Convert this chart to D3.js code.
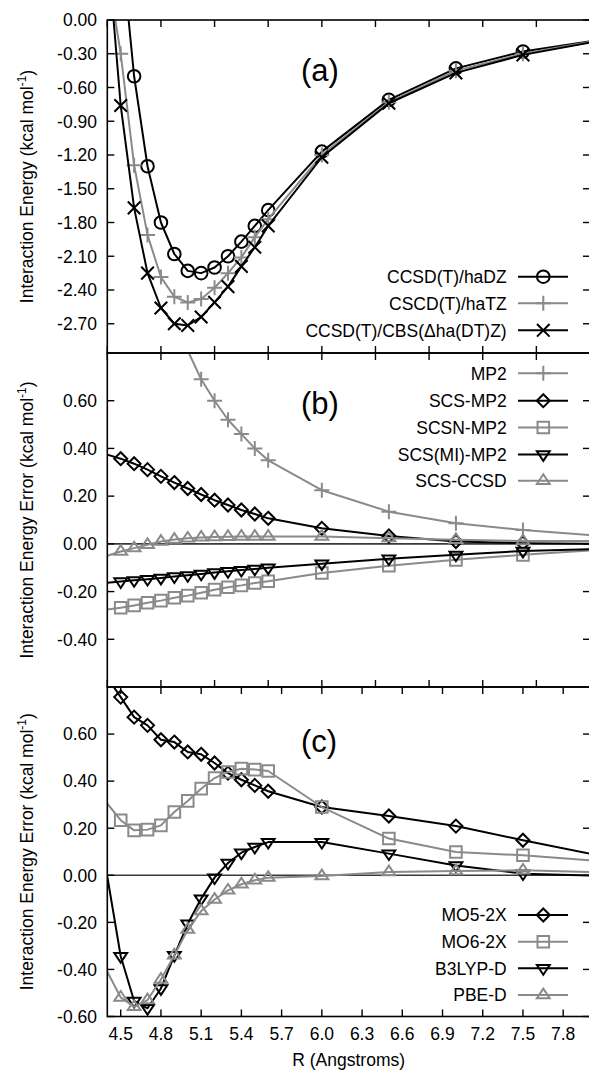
<!DOCTYPE html>
<html>
<head>
<meta charset="utf-8">
<script src="https://cdn.jsdelivr.net/npm/d3@7"></script>
<style>
  html, body { margin: 0; padding: 0; background: #fff; }
  svg { display: block; }
  text { font-family: "Liberation Sans", Arial, Helvetica, sans-serif; fill: #000; }
</style>
</head>
<body>
<svg id="chart" width="589" height="1070"></svg>
<script>
// Separation R (Angstrom) shared by every curve
const R = [4.4, 4.5, 4.6, 4.7, 4.8, 4.9, 5.0, 5.1, 5.2, 5.3, 5.4, 5.5, 5.6, 6.0, 6.5, 7.0, 7.5, 8.0];

// (a) interaction energies, kcal/mol
const ccsdHaDZ = [2.00, 0.72, -0.50, -1.30, -1.80, -2.08, -2.23, -2.25, -2.20, -2.10, -1.97, -1.83, -1.69, -1.17, -0.71, -0.43, -0.28, -0.19];
const cscdHaTZ = [0.45, -0.30, -1.29, -1.91, -2.285, -2.46, -2.51, -2.48, -2.38, -2.25, -2.11, -1.93, -1.77, -1.20, -0.73, -0.45, -0.30, -0.195];
const ccsdCBS  = [0.67, -0.76, -1.67, -2.25, -2.56, -2.70, -2.715, -2.64, -2.51, -2.37, -2.19, -2.02, -1.83, -1.22, -0.74, -0.47, -0.31, -0.20];

// (b) wavefunction method errors, kcal/mol
const mp2      = [2.30, 1.90, 1.58, 1.32, 1.11, 0.94, 0.81, 0.69, 0.60, 0.52, 0.46, 0.40, 0.35, 0.225, 0.135, 0.086, 0.058, 0.037];
const scsMp2   = [0.374, 0.357, 0.336, 0.311, 0.283, 0.257, 0.232, 0.207, 0.183, 0.163, 0.142, 0.125, 0.107, 0.065, 0.033, 0.010, 0.003, 0.000];
const scsnMp2  = [-0.275, -0.268, -0.258, -0.247, -0.238, -0.226, -0.217, -0.205, -0.192, -0.182, -0.174, -0.164, -0.157, -0.122, -0.092, -0.067, -0.046, -0.028];
const scsMiMp2 = [-0.163, -0.158, -0.153, -0.148, -0.143, -0.137, -0.132, -0.126, -0.120, -0.115, -0.110, -0.105, -0.100, -0.083, -0.062, -0.046, -0.030, -0.022];
const scsCcsd  = [-0.050, -0.032, -0.018, -0.004, 0.010, 0.018, 0.023, 0.027, 0.029, 0.030, 0.031, 0.031, 0.031, 0.031, 0.024, 0.017, 0.012, 0.012];

// (c) density functional errors, kcal/mol
const m052x  = [0.84, 0.757, 0.672, 0.637, 0.576, 0.566, 0.524, 0.514, 0.477, 0.434, 0.406, 0.382, 0.357, 0.290, 0.252, 0.209, 0.149, 0.092];
const m062x  = [0.304, 0.234, 0.191, 0.194, 0.212, 0.269, 0.316, 0.368, 0.413, 0.439, 0.453, 0.449, 0.443, 0.290, 0.156, 0.099, 0.085, 0.064];
const b3lypD = [-0.005, -0.344, -0.534, -0.565, -0.481, -0.340, -0.206, -0.099, -0.010, 0.052, 0.096, 0.120, 0.141, 0.141, 0.092, 0.042, 0.007, -0.001];
const pbeD   = [-0.41, -0.519, -0.559, -0.530, -0.443, -0.340, -0.231, -0.152, -0.103, -0.064, -0.038, -0.021, -0.010, -0.003, 0.014, 0.018, 0.021, 0.014];

// Axis ticks
const rTicksMinor = [4.4, 4.8, 5.2, 5.6, 6.0, 6.4, 6.8, 7.2, 7.6, 8.0];
const rTicksMajor = [4.5, 4.8, 5.1, 5.4, 5.7, 6.0, 6.3, 6.6, 6.9, 7.2, 7.5, 7.8];
const rTickLabels = ["4.5", "4.8", "5.1", "5.4", "5.7", "6.0", "6.3", "6.6", "6.9", "7.2", "7.5", "7.8"];
const eTicksA = [0.00, -0.30, -0.60, -0.90, -1.20, -1.50, -1.80, -2.10, -2.40, -2.70];
const eTicksB = [0.60, 0.40, 0.20, 0.00, -0.20, -0.40];
const eTicksC = [0.60, 0.40, 0.20, 0.00, -0.20, -0.40, -0.60];

const BLACK = "#000";
const GREY = "#8a8a8a";
const FONT = 17.5;

const svg = d3.select("#chart");
const left = 107.3, right = 590;
const x = d3.scaleLinear().domain([4.4, 8.0]).range([left, right]);

const fmt = v => (v < -1e-9 ? "-" : "") + Math.abs(v).toFixed(2);

const panels = [
  {
    key: "a", top: 20, bottom: 353, domain: [-2.96, 0], ticks: eTicksA,
    rTicks: rTicksMinor, zeroLine: false, tag: "(a)", tagBase: 81,
    title: "Interaction Energy",
    legendRows: [276.7, 303.3, 330.3],
    series: [
      { name: "CCSD(T)/haDZ", v: ccsdHaDZ, color: BLACK, mark: "circle" },
      { name: "CSCD(T)/haTZ", v: cscdHaTZ, color: GREY, mark: "plus" },
      { name: "CCSD(T)/CBS(\u0394ha(DT)Z)", v: ccsdCBS, color: BLACK, mark: "cross" }
    ]
  },
  {
    key: "b", top: 353, bottom: 687, domain: [-0.6, 0.8], ticks: eTicksB,
    rTicks: rTicksMinor, zeroLine: true, tag: "(b)", tagBase: 414,
    title: "Interaction Energy Error",
    legendRows: [373.3, 400.7, 427.5, 454.5, 480.7],
    series: [
      { name: "MP2", v: mp2, color: GREY, mark: "plus" },
      { name: "SCS-MP2", v: scsMp2, color: BLACK, mark: "diamond" },
      { name: "SCSN-MP2", v: scsnMp2, color: GREY, mark: "square" },
      { name: "SCS(MI)-MP2", v: scsMiMp2, color: BLACK, mark: "triDown" },
      { name: "SCS-CCSD", v: scsCcsd, color: GREY, mark: "triUp" }
    ]
  },
  {
    key: "c", top: 687, bottom: 1016.5, domain: [-0.6, 0.8], ticks: eTicksC,
    rTicks: rTicksMajor, rLabels: rTickLabels, zeroLine: true, tag: "(c)", tagBase: 752,
    title: "Interaction Energy Error",
    legendRows: [915, 941.7, 968.3, 995],
    series: [
      { name: "MO5-2X", v: m052x, color: BLACK, mark: "diamond" },
      { name: "MO6-2X", v: m062x, color: GREY, mark: "square" },
      { name: "B3LYP-D", v: b3lypD, color: BLACK, mark: "triDown" },
      { name: "PBE-D", v: pbeD, color: GREY, mark: "triUp" }
    ]
  }
];

// Hollow point glyphs centred on (cx, cy)
function glyph(type, cx, cy) {
  const p = d3.path();
  if (type === "circle") {
    p.moveTo(cx + 6.3, cy); p.arc(cx, cy, 6.3, 0, 2 * Math.PI);
  } else if (type === "plus") {
    p.moveTo(cx - 7.5, cy); p.lineTo(cx + 7.5, cy);
    p.moveTo(cx, cy - 7.5); p.lineTo(cx, cy + 7.5);
  } else if (type === "cross") {
    const s = 6.3;
    p.moveTo(cx - s, cy - s); p.lineTo(cx + s, cy + s);
    p.moveTo(cx - s, cy + s); p.lineTo(cx + s, cy - s);
  } else if (type === "diamond") {
    const s = 6.5;
    p.moveTo(cx, cy - s); p.lineTo(cx + s, cy); p.lineTo(cx, cy + s); p.lineTo(cx - s, cy); p.closePath();
  } else if (type === "square") {
    const s = 5.8;
    p.rect(cx - s, cy - s, 2 * s, 2 * s);
  } else if (type === "triUp") {
    const s = 4.8;
    p.moveTo(cx, cy - 4 * s / 3); p.lineTo(cx + 4 * s / 3, cy + 2 * s / 3); p.lineTo(cx - 4 * s / 3, cy + 2 * s / 3); p.closePath();
  } else if (type === "triDown") {
    const s = 4.8;
    p.moveTo(cx, cy + 4 * s / 3); p.lineTo(cx + 4 * s / 3, cy - 2 * s / 3); p.lineTo(cx - 4 * s / 3, cy - 2 * s / 3); p.closePath();
  }
  return p.toString();
}

const defs = svg.append("defs");

panels.forEach(P => {
  const y = d3.scaleLinear().domain(P.domain).range([P.bottom, P.top]);
  const g = svg.append("g").attr("class", "panel-" + P.key);

  defs.append("clipPath").attr("id", "clip-" + P.key)
    .append("rect")
    .attr("x", left).attr("y", P.top)
    .attr("width", right - left).attr("height", P.bottom - P.top);

  // zero reference line
  if (P.zeroLine) {
    g.append("line")
      .attr("x1", left).attr("x2", right)
      .attr("y1", y(0)).attr("y2", y(0))
      .attr("stroke", "#3a3a3a").attr("stroke-width", 1.6);
  }

  // curves and their points; points outside the ranges are skipped
  const plot = g.append("g").attr("clip-path", "url(#clip-" + P.key + ")");
  const line = d3.line().x(d => x(d[0])).y(d => y(d[1]));
  const [ylo, yhi] = P.domain;
  P.series.forEach(s => {
    const pts = R.map((r, i) => [r, s.v[i]]);
    plot.append("path")
      .attr("d", line(pts))
      .attr("fill", "none").attr("stroke", s.color)
      .attr("stroke-width", 2).attr("stroke-linejoin", "round");
    plot.selectAll(null)
      .data(pts.filter(d => d[0] > 4.4 + 1e-6 && d[0] < 8.0 - 1e-6 && d[1] > ylo && d[1] < yhi))
      .join("path")
      .attr("d", d => glyph(s.mark, x(d[0]), y(d[1])))
      .attr("fill", "none").attr("stroke", s.color).attr("stroke-width", 2);
  });

  // frame
  g.append("rect")
    .attr("x", left).attr("y", P.top)
    .attr("width", right - left).attr("height", P.bottom - P.top)
    .attr("fill", "none").attr("stroke", BLACK).attr("stroke-width", 1.6);

  // energy ticks (inward, both sides) and labels
  const tl = 7;
  P.ticks.forEach(t => {
    g.append("line").attr("x1", left).attr("x2", left + tl)
      .attr("y1", y(t)).attr("y2", y(t)).attr("stroke", BLACK).attr("stroke-width", 1.4);
    g.append("line").attr("x1", right - tl).attr("x2", right)
      .attr("y1", y(t)).attr("y2", y(t)).attr("stroke", BLACK).attr("stroke-width", 1.4);
    g.append("text")
      .attr("x", 97).attr("y", y(t) + 6.3)
      .attr("text-anchor", "end").attr("font-size", FONT)
      .text(fmt(t));
  });

  // R ticks (inward, top and bottom)
  P.rTicks.forEach(r => {
    g.append("line").attr("x1", x(r)).attr("x2", x(r))
      .attr("y1", P.top).attr("y2", P.top + tl).attr("stroke", BLACK).attr("stroke-width", 1.4);
    g.append("line").attr("x1", x(r)).attr("x2", x(r))
      .attr("y1", P.bottom - tl).attr("y2", P.bottom).attr("stroke", BLACK).attr("stroke-width", 1.4);
  });
  if (P.rLabels) {
    P.rTicks.forEach((r, i) => {
      g.append("text")
        .attr("x", x(r)).attr("y", P.bottom + 23.5)
        .attr("text-anchor", "middle").attr("font-size", FONT)
        .text(P.rLabels[i]);
    });
  }

  // axis title, rotated
  const cy = (P.top + P.bottom) / 2;
  const tt = g.append("text")
    .attr("transform", `translate(32.5,${cy}) rotate(-90)`)
    .attr("text-anchor", "middle").attr("font-size", FONT);
  tt.append("tspan").text(P.title + " (kcal mol");
  tt.append("tspan").attr("font-size", 12).attr("dy", -7).text("-1");
  tt.append("tspan").attr("dy", 7).text(")");

  // panel tag
  g.append("text")
    .attr("x", 301).attr("y", P.tagBase)
    .attr("font-size", 31)
    .text(P.tag);

  // key
  P.series.forEach((s, i) => {
    const ry = P.legendRows[i];
    g.append("text")
      .attr("x", 506.7).attr("y", ry + 6.3)
      .attr("text-anchor", "end").attr("font-size", FONT)
      .text(s.name);
    g.append("line")
      .attr("x1", 518).attr("x2", 568).attr("y1", ry).attr("y2", ry)
      .attr("stroke", s.color).attr("stroke-width", 2);
    g.append("path")
      .attr("d", glyph(s.mark, 543.3, ry))
      .attr("fill", "none").attr("stroke", s.color).attr("stroke-width", 2);
  });
});

// R axis title
svg.append("text")
  .attr("x", (left + right) / 2).attr("y", 1066)
  .attr("text-anchor", "middle").attr("font-size", FONT)
  .text("R (Angstroms)");
</script>
</body>
</html>
